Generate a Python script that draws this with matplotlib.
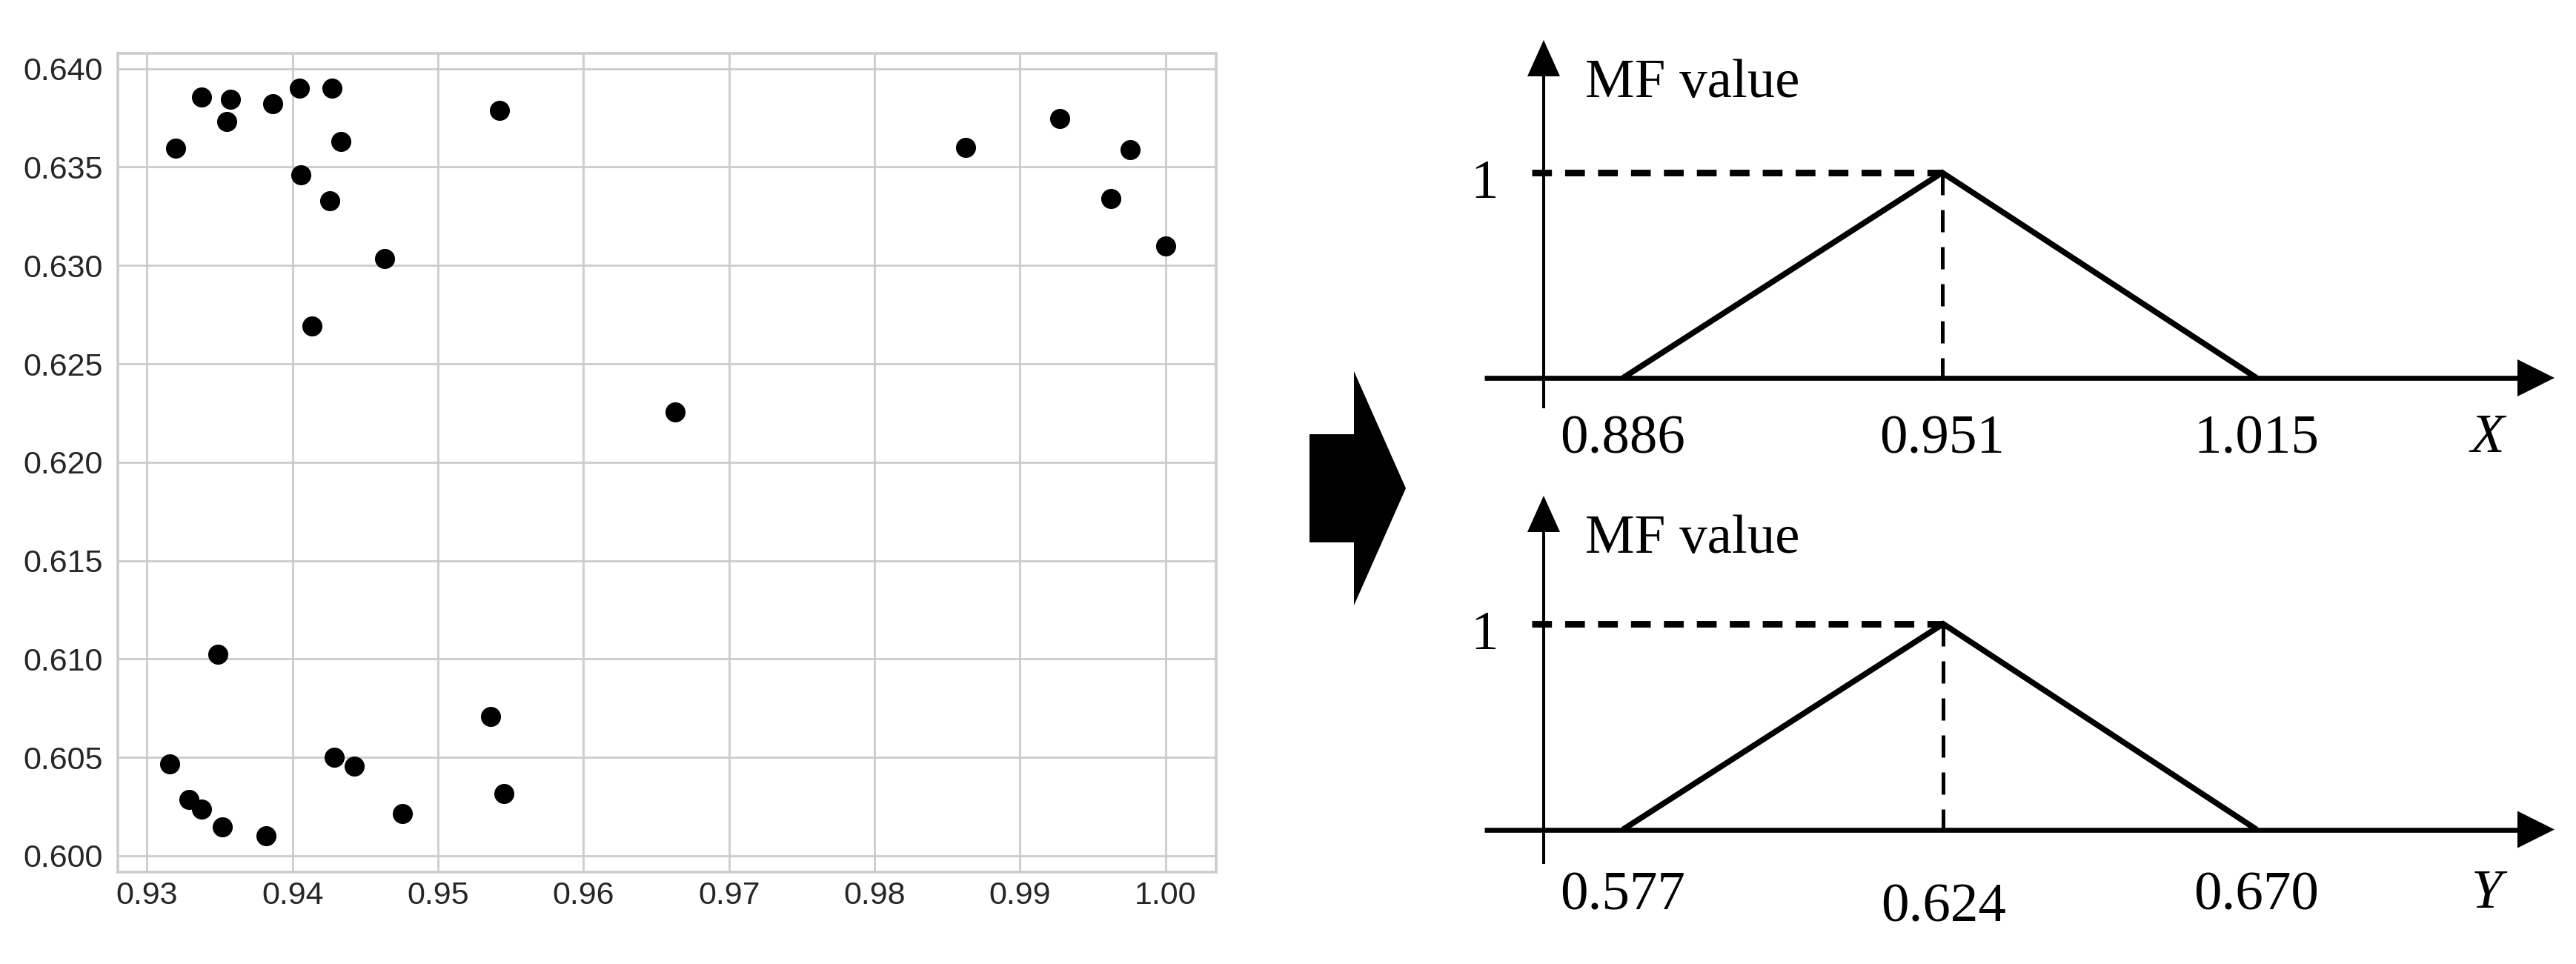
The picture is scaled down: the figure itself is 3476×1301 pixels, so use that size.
import matplotlib
matplotlib.use("Agg")
import matplotlib.pyplot as plt
from matplotlib.patches import Polygon

# ---------------- data ----------------
scatter_x = [0.93199, 0.93377, 0.93574, 0.93546, 0.93862, 0.94045, 0.94272, 0.94333,
             0.94058, 0.94255, 0.94635, 0.94136, 0.95424,
             0.93485, 0.93154, 0.93286, 0.93377, 0.93517, 0.93818, 0.94288, 0.94424,
             0.94757, 0.95363, 0.95454,
             0.96630, 0.98628, 0.99272, 0.99622, 0.99758, 1.00000]
scatter_y = [0.63597, 0.63855, 0.63845, 0.63730, 0.63820, 0.63902, 0.63902, 0.63631,
             0.63462, 0.63327, 0.63034, 0.62694, 0.63789,
             0.61024, 0.60467, 0.60286, 0.60237, 0.60148, 0.60102, 0.60501, 0.60456,
             0.60216, 0.60707, 0.60317,
             0.62254, 0.63598, 0.63748, 0.63339, 0.63589, 0.63097]

x_ticks = [0.93, 0.94, 0.95, 0.96, 0.97, 0.98, 0.99, 1.00]
x_tick_labels = ["0.93", "0.94", "0.95", "0.96", "0.97", "0.98", "0.99", "1.00"]
y_ticks = [0.600, 0.605, 0.610, 0.615, 0.620, 0.625, 0.630, 0.635, 0.640]
y_tick_labels = ["0.600", "0.605", "0.610", "0.615", "0.620", "0.625", "0.630", "0.635", "0.640"]

mf_x_params = [0.886, 0.951, 1.015]
mf_x_labels = ["0.886", "0.951", "1.015"]
mf_y_params = [0.577, 0.624, 0.670]
mf_y_labels = ["0.577", "0.624", "0.670"]
mf_membership = [0, 1, 0]
mf_axis_names = ["X", "Y"]
mf_ylabel = "MF value"
mf_one_label = "1"

# ---------------- figure ----------------
W, H, DPI = 3476, 1301, 200
fig = plt.figure(figsize=(W / DPI, H / DPI), dpi=DPI)
fig.patch.set_facecolor("white")

# scatter panel
L, R, T, B = 159.3, 1640.7, 71.7, 1176.7
ax = fig.add_axes([L / W, 1 - B / H, (R - L) / W, (B - T) / H])
ax.scatter(scatter_x, scatter_y, s=95, c="black", linewidths=0, zorder=3)
ax.set_xlim(0.92801, 1.00346)
ax.set_ylim(0.59918, 0.64079)
ax.set_xticks(x_ticks)
ax.set_xticklabels(x_tick_labels)
ax.set_yticks(y_ticks)
ax.set_yticklabels(y_tick_labels)
ax.grid(True, color="#cccccc", lw=1.0)
ax.set_axisbelow(True)
for sp in ax.spines.values():
    sp.set_color("#cccccc")
    sp.set_linewidth(1.3)
ax.tick_params(axis="both", length=0, labelsize=15.5, labelcolor="#262626")
ax.tick_params(axis="y", pad=7.5)
ax.tick_params(axis="x", pad=4.5)
for lab in ax.get_xticklabels() + ax.get_yticklabels():
    lab.set_family("Liberation Sans")

# overlay in pixel coordinates for the big arrow
ov = fig.add_axes([0, 0, 1, 1])
ov.set_xlim(0, W)
ov.set_ylim(H, 0)
ov.axis("off")
ov.add_patch(Polygon([(1767, 586), (1827, 586), (1827, 501), (1897, 659),
                      (1827, 817), (1827, 732), (1767, 732)],
                     closed=True, facecolor="black", edgecolor="none"))

# membership-function panels
serif = "Liberation Serif"
fs = 27
panels = [
    dict(params=mf_x_params, labels=mf_x_labels, name=mf_axis_names[0],
         top=0, bot=650, base=510.0, unit=277.0, tip=456, tail=41,
         label_dy=[84, 84, 84], name_dy=82),
    dict(params=mf_y_params, labels=mf_y_labels, name=mf_axis_names[1],
         top=650, bot=1301, base=1119.5, unit=277.5, tip=450.5, tail=46,
         label_dy=[90.5, 106.5, 90.5], name_dy=88),
]
PX0 = 1960
FOOT_L, FOOT_R = 2190.0, 3045.0
for p in panels:
    a, b, c = p["params"]
    base, unit = p["base"], p["unit"]
    k = (c - a) / (FOOT_R - FOOT_L)
    pax = fig.add_axes([PX0 / W, 1 - p["bot"] / H, (W - PX0) / W, (p["bot"] - p["top"]) / H])
    pax.set_xlim(a + (PX0 - FOOT_L) * k, a + (W - FOOT_L) * k)
    pax.set_ylim((base - p["bot"]) / unit, (base - p["top"]) / unit)
    pax.axis("off")

    def X(px):
        return a + (px - FOOT_L) * k

    def Y(py):
        return (base - py) / unit

    # horizontal axis with arrow
    pax.plot([X(2003), X(3400)], [0, 0], color="black", lw=2.4,
             solid_capstyle="butt", clip_on=False)
    pax.add_patch(Polygon([(X(3397), Y(base - 25)), (X(3447), 0), (X(3397), Y(base + 25))],
                          closed=True, facecolor="black", edgecolor="none", clip_on=False))
    # vertical axis with arrow
    tip_py = base - p["tip"]
    pax.plot([X(2083), X(2083)], [Y(base + p["tail"]), Y(tip_py + 48)], color="black",
             lw=1.45, solid_capstyle="butt", clip_on=False)
    pax.add_patch(Polygon([(X(2061), Y(tip_py + 49)), (X(2083), Y(tip_py)), (X(2105), Y(tip_py + 49))],
                          closed=True, facecolor="black", edgecolor="none", clip_on=False))
    # triangle membership function
    pax.plot(p["params"], mf_membership, color="black", lw=2.8,
             solid_joinstyle="miter", solid_capstyle="butt", clip_on=False)
    # dashed guides
    pax.plot([X(2067), b], [1, 1], color="black", lw=3.2, linestyle=(0, (3, 2)),
             dash_capstyle="butt", clip_on=False)
    pax.plot([b, b], [1, 0], color="black", lw=1.8, linestyle=(0, (6, 4)),
             dash_capstyle="butt", clip_on=False)
    # texts
    pax.text(X(2139), Y(tip_py + 77), mf_ylabel, family=serif, fontsize=fs,
             ha="left", va="baseline")
    pax.text(X(2003), Y(base - unit + 34), mf_one_label, family=serif, fontsize=fs,
             ha="center", va="baseline")
    for v, lab, dy in zip(p["params"], p["labels"], p["label_dy"]):
        pax.text(v, Y(base + dy), lab, family=serif, fontsize=fs, ha="center", va="center")
    pax.text(X(3356), Y(base + p["name_dy"]), p["name"], family=serif, fontsize=fs,
             style="italic", ha="center", va="center")

fig.savefig("out.png", dpi=DPI, facecolor="white")
